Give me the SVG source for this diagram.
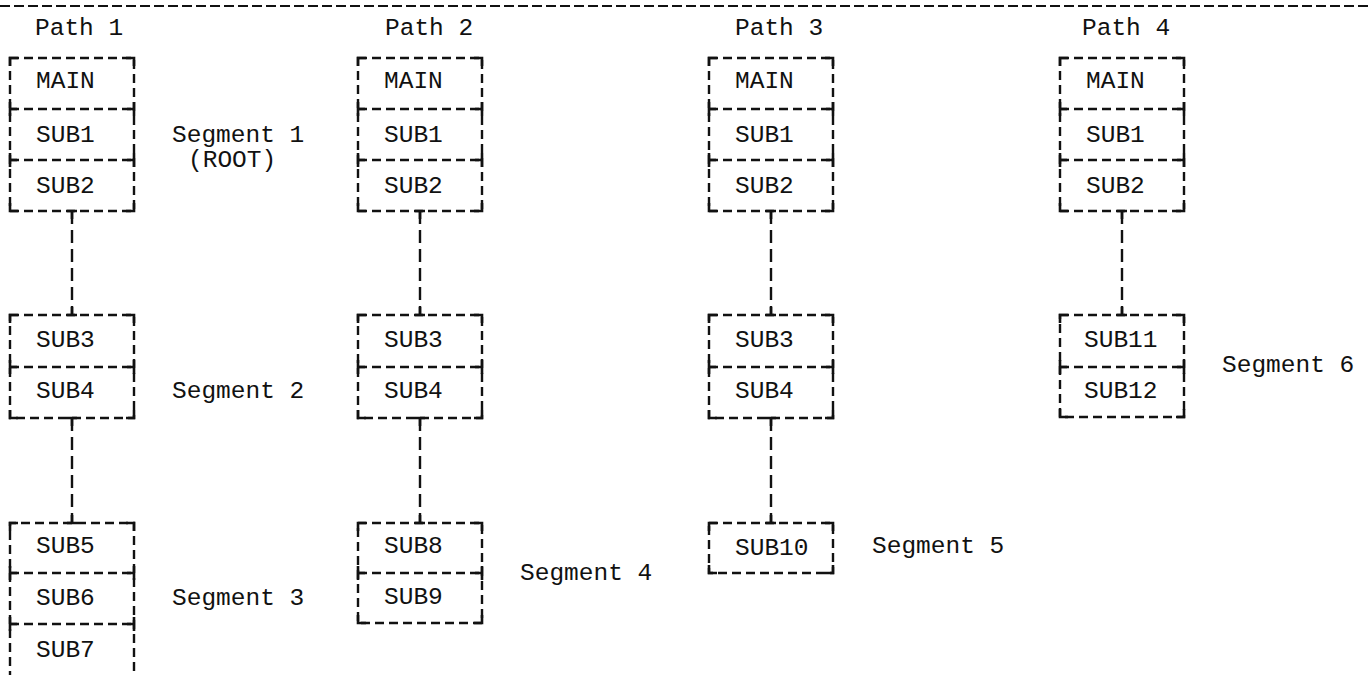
<svg xmlns="http://www.w3.org/2000/svg" xmlns:xlink="http://www.w3.org/1999/xlink" width="1372" height="675" viewBox="0 0 1372 675">
<style>
text{font-family:"Liberation Mono","DejaVu Sans Mono",monospace;font-size:24.5px;fill:#111}
.bx{fill:none;stroke:#111;stroke-width:2.4;stroke-dasharray:9 5}
.cn{fill:none;stroke:#111;stroke-width:2.4;stroke-dasharray:13 6}
.tk{fill:none;stroke:#111;stroke-width:2.6}
.top{fill:none;stroke:#111;stroke-width:2;stroke-dasharray:10 4}
</style>
<defs>
<path id="tl" class="tk" d="M0,8 V0 H8"/>
<path id="tr" class="tk" d="M-8,0 H0 V8"/>
<path id="bl" class="tk" d="M0,-8 V0 H8"/>
<path id="br" class="tk" d="M-8,0 H0 V-8"/>
<path id="ml" class="tk" d="M0,-7 V7 M0,0 H7"/>
<path id="mr" class="tk" d="M0,-7 V7 M0,0 H-7"/>
<path id="jd" class="tk" d="M-5,0 H5 M0,0 V8"/>
<path id="ju" class="tk" d="M-5,0 H5 M0,0 V-8"/>
</defs>
<line class="top" x1="0" y1="6" x2="1372" y2="6"/>
<g id="connectors">
<line class="cn" x1="72" y1="211" x2="72" y2="315"/>
<line class="cn" x1="72" y1="418" x2="72" y2="523"/>
<line class="cn" x1="420" y1="211" x2="420" y2="315"/>
<line class="cn" x1="420" y1="418" x2="420" y2="523"/>
<line class="cn" x1="771" y1="211" x2="771" y2="315"/>
<line class="cn" x1="771" y1="418" x2="771" y2="523"/>
<line class="cn" x1="1122" y1="211" x2="1122" y2="315"/>
<use href="#jd" x="72" y="211"/><use href="#ju" x="72" y="315"/>
<use href="#jd" x="72" y="418"/><use href="#ju" x="72" y="523"/>
<use href="#jd" x="420" y="211"/><use href="#ju" x="420" y="315"/>
<use href="#jd" x="420" y="418"/><use href="#ju" x="420" y="523"/>
<use href="#jd" x="771" y="211"/><use href="#ju" x="771" y="315"/>
<use href="#jd" x="771" y="418"/><use href="#ju" x="771" y="523"/>
<use href="#jd" x="1122" y="211"/><use href="#ju" x="1122" y="315"/>
</g>
<g id="labels">
<text x="35" y="35">Path 1</text>
<text x="385" y="35">Path 2</text>
<text x="735" y="35">Path 3</text>
<text x="1082" y="35">Path 4</text>
<text x="172" y="142">Segment 1</text>
<text x="188" y="167">(ROOT)</text>
<text x="172" y="398">Segment 2</text>
<text x="172" y="605">Segment 3</text>
<text x="520" y="580">Segment 4</text>
<text x="872" y="553">Segment 5</text>
<text x="1222" y="372">Segment 6</text>
</g>
<!-- Path 1 -->
<g id="p1-root">
<rect class="bx" x="10" y="58" width="124" height="153"/>
<line class="bx" x1="10" y1="109" x2="134" y2="109"/>
<line class="bx" x1="10" y1="160" x2="134" y2="160"/>
<use href="#tl" x="10" y="58"/><use href="#tr" x="134" y="58"/><use href="#bl" x="10" y="211"/><use href="#br" x="134" y="211"/>
<use href="#ml" x="10" y="109"/><use href="#mr" x="134" y="109"/><use href="#ml" x="10" y="160"/><use href="#mr" x="134" y="160"/>
<text x="36" y="88">MAIN</text><text x="36" y="142">SUB1</text><text x="36" y="193">SUB2</text>
</g>
<g id="p1-seg2">
<rect class="bx" x="10" y="315" width="124" height="103"/>
<line class="bx" x1="10" y1="367" x2="134" y2="367"/>
<use href="#tl" x="10" y="315"/><use href="#tr" x="134" y="315"/><use href="#bl" x="10" y="418"/><use href="#br" x="134" y="418"/>
<use href="#ml" x="10" y="367"/><use href="#mr" x="134" y="367"/>
<text x="36" y="347">SUB3</text><text x="36" y="398">SUB4</text>
</g>
<g id="p1-seg3">
<path class="bx" d="M10,680 V523 H134 V680"/>
<line class="bx" x1="10" y1="573" x2="134" y2="573"/>
<line class="bx" x1="10" y1="624" x2="134" y2="624"/>
<use href="#tl" x="10" y="523"/><use href="#tr" x="134" y="523"/>
<use href="#ml" x="10" y="573"/><use href="#mr" x="134" y="573"/><use href="#ml" x="10" y="624"/><use href="#mr" x="134" y="624"/>
<text x="36" y="553">SUB5</text><text x="36" y="605">SUB6</text><text x="36" y="657">SUB7</text>
</g>
<!-- Path 2 -->
<g id="p2-root">
<rect class="bx" x="358" y="58" width="124" height="153"/>
<line class="bx" x1="358" y1="109" x2="482" y2="109"/>
<line class="bx" x1="358" y1="160" x2="482" y2="160"/>
<use href="#tl" x="358" y="58"/><use href="#tr" x="482" y="58"/><use href="#bl" x="358" y="211"/><use href="#br" x="482" y="211"/>
<use href="#ml" x="358" y="109"/><use href="#mr" x="482" y="109"/><use href="#ml" x="358" y="160"/><use href="#mr" x="482" y="160"/>
<text x="384" y="88">MAIN</text><text x="384" y="142">SUB1</text><text x="384" y="193">SUB2</text>
</g>
<g id="p2-seg2">
<rect class="bx" x="358" y="315" width="124" height="103"/>
<line class="bx" x1="358" y1="367" x2="482" y2="367"/>
<use href="#tl" x="358" y="315"/><use href="#tr" x="482" y="315"/><use href="#bl" x="358" y="418"/><use href="#br" x="482" y="418"/>
<use href="#ml" x="358" y="367"/><use href="#mr" x="482" y="367"/>
<text x="384" y="347">SUB3</text><text x="384" y="398">SUB4</text>
</g>
<g id="p2-seg4">
<rect class="bx" x="358" y="523" width="124" height="100"/>
<line class="bx" x1="358" y1="573" x2="482" y2="573"/>
<use href="#tl" x="358" y="523"/><use href="#tr" x="482" y="523"/><use href="#bl" x="358" y="623"/><use href="#br" x="482" y="623"/>
<use href="#ml" x="358" y="573"/><use href="#mr" x="482" y="573"/>
<text x="384" y="553">SUB8</text><text x="384" y="604">SUB9</text>
</g>
<!-- Path 3 -->
<g id="p3-root">
<rect class="bx" x="709" y="58" width="124" height="153"/>
<line class="bx" x1="709" y1="109" x2="833" y2="109"/>
<line class="bx" x1="709" y1="160" x2="833" y2="160"/>
<use href="#tl" x="709" y="58"/><use href="#tr" x="833" y="58"/><use href="#bl" x="709" y="211"/><use href="#br" x="833" y="211"/>
<use href="#ml" x="709" y="109"/><use href="#mr" x="833" y="109"/><use href="#ml" x="709" y="160"/><use href="#mr" x="833" y="160"/>
<text x="735" y="88">MAIN</text><text x="735" y="142">SUB1</text><text x="735" y="193">SUB2</text>
</g>
<g id="p3-seg2">
<rect class="bx" x="709" y="315" width="124" height="103"/>
<line class="bx" x1="709" y1="367" x2="833" y2="367"/>
<use href="#tl" x="709" y="315"/><use href="#tr" x="833" y="315"/><use href="#bl" x="709" y="418"/><use href="#br" x="833" y="418"/>
<use href="#ml" x="709" y="367"/><use href="#mr" x="833" y="367"/>
<text x="735" y="347">SUB3</text><text x="735" y="398">SUB4</text>
</g>
<g id="p3-seg5">
<rect class="bx" x="709" y="523" width="124" height="50"/>
<use href="#tl" x="709" y="523"/><use href="#tr" x="833" y="523"/><use href="#bl" x="709" y="573"/><use href="#br" x="833" y="573"/>
<text x="735" y="555">SUB10</text>
</g>
<!-- Path 4 -->
<g id="p4-root">
<rect class="bx" x="1060" y="58" width="124" height="153"/>
<line class="bx" x1="1060" y1="109" x2="1184" y2="109"/>
<line class="bx" x1="1060" y1="160" x2="1184" y2="160"/>
<use href="#tl" x="1060" y="58"/><use href="#tr" x="1184" y="58"/><use href="#bl" x="1060" y="211"/><use href="#br" x="1184" y="211"/>
<use href="#ml" x="1060" y="109"/><use href="#mr" x="1184" y="109"/><use href="#ml" x="1060" y="160"/><use href="#mr" x="1184" y="160"/>
<text x="1086" y="88">MAIN</text><text x="1086" y="142">SUB1</text><text x="1086" y="193">SUB2</text>
</g>
<g id="p4-seg6">
<rect class="bx" x="1060" y="315" width="124" height="102"/>
<line class="bx" x1="1060" y1="367" x2="1184" y2="367"/>
<use href="#tl" x="1060" y="315"/><use href="#tr" x="1184" y="315"/><use href="#bl" x="1060" y="417"/><use href="#br" x="1184" y="417"/>
<use href="#ml" x="1060" y="367"/><use href="#mr" x="1184" y="367"/>
<text x="1084" y="347">SUB11</text><text x="1084" y="398">SUB12</text>
</g>
</svg>
